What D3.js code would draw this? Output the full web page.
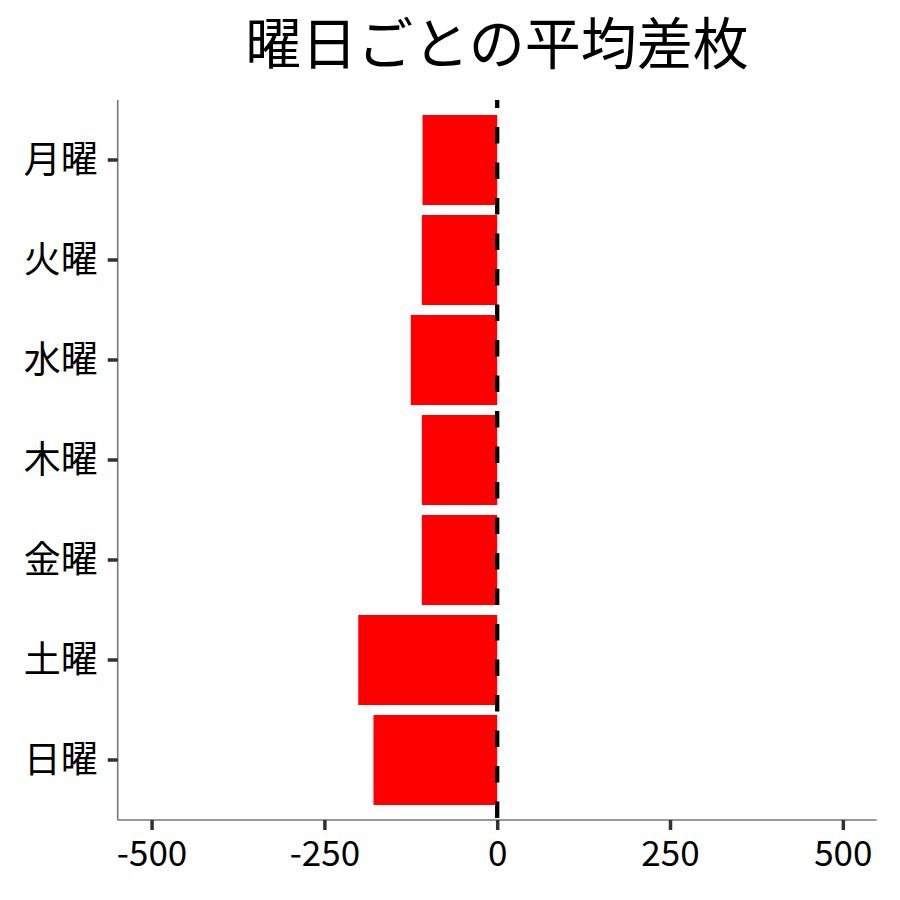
<!DOCTYPE html>
<html><head><meta charset="utf-8">
<script src="https://cdn.jsdelivr.net/npm/d3@7/dist/d3.min.js"></script>
<style>body{margin:0;background:#fff}svg{display:block}</style>
</head><body><div id="chart"></div>
<script>
const title = "曜日ごとの平均差枚";
const days = ["月曜","火曜","水曜","木曜","金曜","土曜","日曜"];
const values = [-108, -109, -125, -109, -109, -201, -179];
const xTicks = [-500, -250, 0, 250, 500];
const xDomain = [-549, 549];

const W = 900, H = 900;
const font = "'Noto Sans CJK JP', 'Noto Sans', sans-serif";
const pLeft = 117.7, pRight = 876.7, pTop = 100, pBottom = 820;

const svg = d3.select("#chart").append("svg").attr("width", W).attr("height", H)
  .style("font-family", font);

const x = d3.scaleLinear().domain(xDomain).range([pLeft, pRight]);
const y = d3.scaleBand().domain(days).range([pTop, pBottom]).paddingInner(0.1).paddingOuter(0.15);

// bars
svg.append("g").selectAll("rect").data(days).join("rect")
  .attr("x", (d, i) => x(Math.min(0, values[i])))
  .attr("width", (d, i) => Math.abs(x(values[i]) - x(0)))
  .attr("y", d => y(d))
  .attr("height", y.bandwidth())
  .attr("fill", "#ff0000");

// dashed zero line
svg.append("line")
  .attr("x1", x(0)).attr("x2", x(0)).attr("y1", pTop).attr("y2", pBottom)
  .attr("stroke", "#000").attr("stroke-width", 4.3)
  .attr("stroke-dasharray", "16.5,19").attr("stroke-dashoffset", 8.5);

// x axis
const xAxis = svg.append("g").attr("transform", `translate(0,${pBottom})`)
  .call(d3.axisBottom(x).tickValues(xTicks).tickSize(10).tickPadding(9).tickFormat(d => String(d)));
xAxis.select(".domain").attr("stroke", "#777").attr("stroke-width", 1.6)
  .attr("d", `M${pLeft},0H${pRight}`);
xAxis.selectAll(".tick line").attr("stroke", "#333").attr("stroke-width", 3.5);
xAxis.selectAll(".tick text").attr("fill", "#000").style("font-size", "35px")
  .style("font-family", font).attr("dy", "0.78em");

// y axis
const yAxis = svg.append("g").attr("transform", `translate(${pLeft},0)`)
  .call(d3.axisLeft(y).tickSize(10).tickPadding(10));
yAxis.select(".domain").attr("stroke", "#777").attr("stroke-width", 1.6)
  .attr("d", `M0,${pTop}V${pBottom}`);
yAxis.selectAll(".tick line").attr("stroke", "#333").attr("stroke-width", 3.5);
yAxis.selectAll(".tick text").attr("fill", "#000").style("font-size", "37px")
  .style("font-family", font).attr("dy", "0.35em");

// title
svg.append("text").attr("x", 497).attr("y", 64).attr("text-anchor", "middle")
  .style("font-size", "56px").attr("fill", "#000").text(title);
</script></body></html>
